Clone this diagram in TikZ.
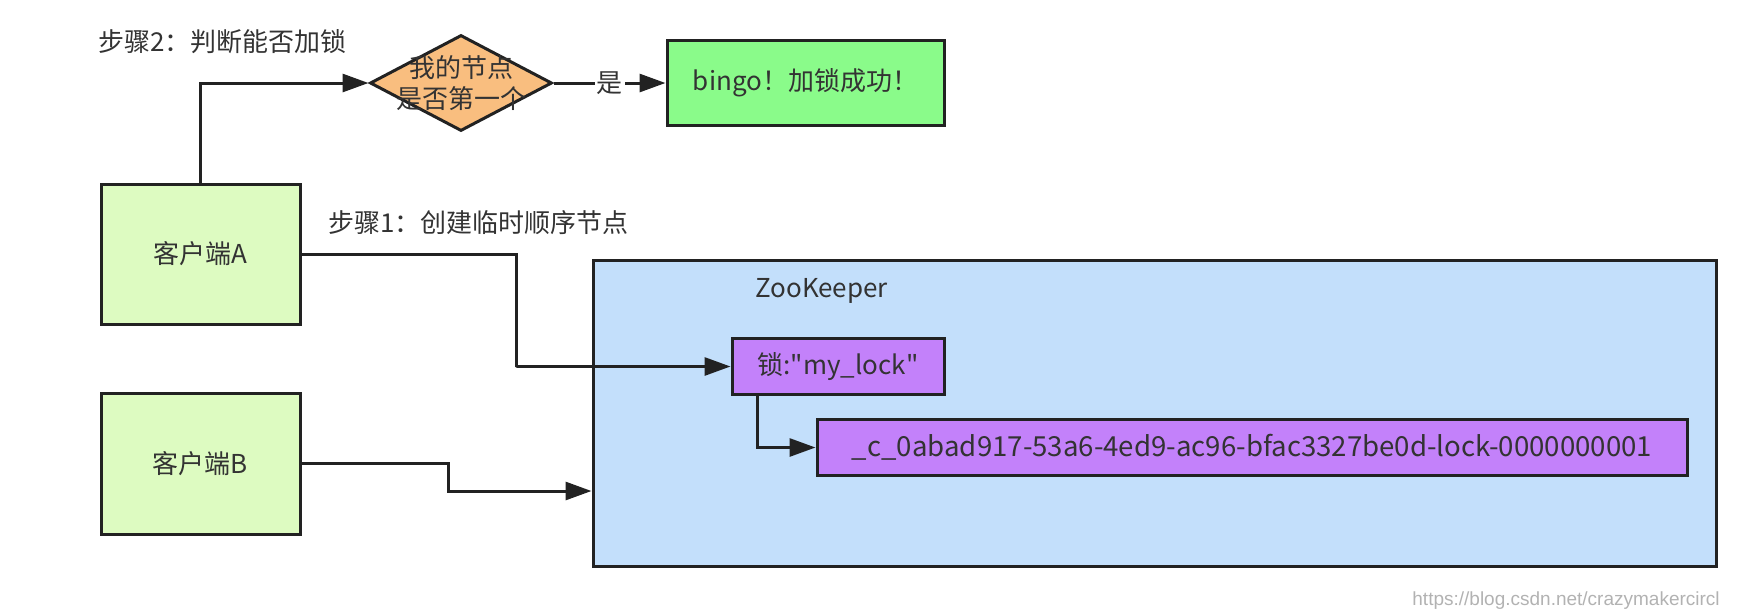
\documentclass[tikz,border=0pt]{standalone}
\usepackage{fontspec}
\setmainfont{Noto Sans CJK SC}[Ligatures=TeXOff]
\newfontfamily\wmfont{Liberation Sans}
\usepackage{tikz}
\usetikzlibrary{shapes.geometric, arrows.meta, positioning}

\definecolor{clientgreen}{HTML}{DDFBC1}
\definecolor{qorange}{HTML}{F9BE7F}
\definecolor{bingogreen}{HTML}{8AFB8A}
\definecolor{zkblue}{HTML}{C3DFFB}
\definecolor{zpurple}{HTML}{C381FA}
\definecolor{edge}{HTML}{222222}

\begin{document}
\begin{tikzpicture}[
    x=0.5pt, y=-0.5pt,
    font=\fontsize{13}{16}\selectfont,
    text=black!80,
    nd/.style={
      draw=edge, line width=1.5pt,
      align=center, inner sep=0pt
    },
    client/.style={nd, fill=clientgreen, minimum width=99.5pt, minimum height=70pt},
    znode/.style={nd, fill=zpurple, minimum height=28pt},
    decision/.style={
      diamond, draw=edge, line width=1.5pt, fill=qorange,
      minimum width=91pt, minimum height=48pt, inner sep=0pt
    },
    arr/.style={-{Triangle[length=13pt, width=9pt]}, line width=1.5pt, draw=edge},
    arrlbl/.style={fill=white, inner sep=1pt},
    steplbl/.style={anchor=west, inner sep=0pt}
  ]
  \useasboundingbox (0,0) rectangle (1746,612);

  \node[steplbl]                       (step2)   at (98,42)     {步骤2：判断能否加锁};
  \node[steplbl]                       (step1)   at (328,223)   {步骤1：创建临时顺序节点};
  \node[client]                        (clientA) at (200.5,254) {客户端A};
  \node[client, minimum height=70.5pt] (clientB) at (200.5,463.5) {客户端B};
  \node[decision, label={[font=\fontsize{13}{15.5}\selectfont, align=center]center:我的节点\\是否第一个}]
                                       (mine)    at (461,83)    {};
  \node[nd, fill=bingogreen, minimum width=138.5pt, minimum height=42.5pt]
                                       (ok)      at (805.5,83)  {bingo！加锁成功！};
  \node[nd, fill=zkblue, minimum width=561.5pt, minimum height=153pt]
                                       (zk)      at (1154.5,413) {};
  \node[steplbl]                       (zkname)  at (755,291)   {ZooKeeper};
  \node[znode, minimum width=106pt]    (lock)    at (838,366.5) {锁:"my\_lock"};
  \node[znode, minimum width=435pt, font=\fontsize{13.8}{16}\selectfont]
                                       (seq)     at (1252,447.5)
    {\_c\_0abad917-53a6-4ed9-ac96-bfac3327be0d-lock-0000000001};
  \node[steplbl, text=black!30, font=\wmfont\fontsize{9.5}{11}\selectfont]
                                       (wm)      at (1412,601)  {https://blog.csdn.net/crazymakercircl};

  \coordinate (bendA) at (516,367);
  \coordinate (bendB) at (448,491);

  \draw[arr] (clientA.north) |- (mine.west);
  \draw[arr] (mine.east) -- node[arrlbl] {是} (ok.west);
  \draw[arr] (clientA.east) -| (bendA) |- (lock.west);
  \draw[arr] ([xshift=13.5pt]lock.south west) |- (seq.west);
  \draw[arr] (clientB.east) -| (bendB) |- (zk.west |- bendB);
\end{tikzpicture}
\end{document}
